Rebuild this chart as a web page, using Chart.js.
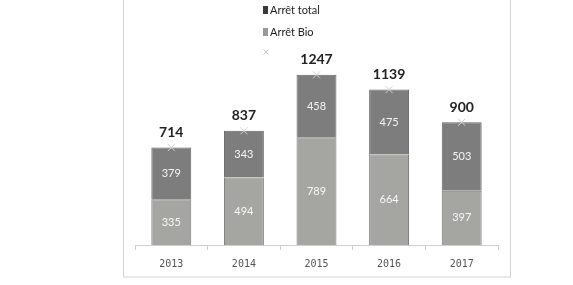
<!DOCTYPE html>
<html><head><meta charset="utf-8">
<script src="https://cdn.jsdelivr.net/npm/chart.js@4"></script>
<style>html,body{margin:0;padding:0;background:#fff}#w{width:573px;height:285px}</style>
</head><body><div id="w"><canvas id="c" width="573" height="285"></canvas></div>
<script>
const years = ["2013","2014","2015","2016","2017"];
const arretBio = [335, 494, 789, 664, 397];
const arretTotal = [379, 343, 458, 475, 503];
const totals = [714, 837, 1247, 1139, 900];
const seriesNames = ["Arrêt total", "Arrêt Bio", ""];

const NARROW = "'Liberation Sans Narrow',Lato,sans-serif";

const framePlugin = {
  id: 'frame',
  beforeDraw(chart) {
    const ctx = chart.ctx;
    ctx.save();
    ctx.strokeStyle = '#d4d4d4';
    ctx.lineWidth = 1;
    ctx.strokeRect(123.5, -5, 387, 282);
    ctx.restore();
  }
};

const labelPlugin = {
  id: 'labels',
  afterDatasetsDraw(chart) {
    const ctx = chart.ctx;
    ctx.save();
    ctx.textAlign = 'center';
    ctx.textBaseline = 'middle';
    [0, 1].forEach(di => {
      const meta = chart.getDatasetMeta(di);
      const data = chart.data.datasets[di].data;
      meta.data.forEach((el, i) => {
        const y = (el.y + el.base) / 2;
        ctx.font = "11px " + NARROW;
        ctx.fillStyle = 'rgba(255,255,255,0.92)';
        ctx.fillText(String(data[i]), el.x, y);
      });
    });
    const lm = chart.getDatasetMeta(2);
    ctx.font = "bold 14px " + NARROW;
    ctx.fillStyle = '#222';
    lm.data.forEach((el, i) => {
      ctx.fillText(String(totals[i]), el.x, el.y - 15);
    });
    // legend (order: total, bio, marker)
    const ds = chart.data.datasets;
    ctx.textAlign = 'left';
    ctx.font = "11px " + NARROW;
    const lx = 263;
    const items = [{ d: ds[1], y: 10, c: '#3a3a3a' }, { d: ds[0], y: 32, c: '#9a9a9a' }];
    items.forEach(it => {
      ctx.fillStyle = it.c;
      ctx.fillRect(lx, it.y - 4, 5, 8);
      ctx.fillStyle = '#222';
      ctx.fillText(it.d.label, lx + 7, it.y);
    });
    ctx.strokeStyle = '#c4c4c4';
    ctx.lineWidth = 1;
    ctx.beginPath();
    ctx.moveTo(263.5, 49.5); ctx.lineTo(268.5, 54.5);
    ctx.moveTo(268.5, 49.5); ctx.lineTo(263.5, 54.5);
    ctx.stroke();
    ctx.restore();
  }
};

new Chart(document.getElementById('c'), {
  type: 'bar',
  data: {
    labels: years,
    datasets: [
      { label: seriesNames[1], data: arretBio, backgroundColor: '#a5a6a2', borderColor: '#777', borderWidth: 1, stack: 's', order: 2 },
      { label: seriesNames[0], data: arretTotal, backgroundColor: '#7d7d7d', borderColor: '#666', borderWidth: 1, stack: 's', order: 2 },
      { type: 'line', label: seriesNames[2], data: totals, showLine: false, pointStyle: 'crossRot', pointRadius: 5, borderColor: '#d0d0d0', borderWidth: 1, order: 1 }
    ]
  },
  options: {
    responsive: false,
    animation: false,
    layout: { padding: { left: 135, right: 75, top: 54, bottom: 7 } },
    plugins: { legend: { display: false }, tooltip: { enabled: false } },
    scales: {
      x: {
        stacked: true,
        grid: { offset: true, drawOnChartArea: false, drawTicks: true, tickLength: 5, color: '#cfcfcf' },
        border: { display: true, color: '#cfcfcf' },
        ticks: { color: '#555', font: { family: "'DejaVu Sans Mono',monospace", size: 10 }, padding: 8 }
      },
      y: { stacked: true, display: false, min: 0, max: 1400 }
    },
    datasets: { bar: { barPercentage: 0.55, categoryPercentage: 1 } }
  },
  plugins: [framePlugin, labelPlugin]
});
</script></body></html>
